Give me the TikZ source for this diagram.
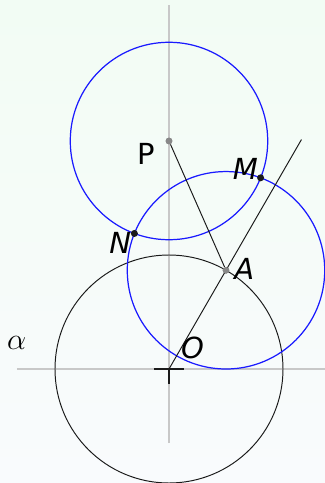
\documentclass[tikz,border=0pt]{standalone}
\usepackage{fontspec}
\setsansfont{DejaVu Sans}
\usepackage{xcolor}
\usepackage{tikz}
\usetikzlibrary{calc}
\definecolor{gtop}{HTML}{F2FCF4}
\definecolor{gbot}{HTML}{F9FBFD}
\definecolor{gaxis}{HTML}{C8C8C8}
\definecolor{gblue}{HTML}{1A1AFF}
\definecolor{gdot}{HTML}{888888}
\definecolor{gink}{HTML}{1A1A1A}
\tikzset{
  ptdot/.style={circle,fill=gink,inner sep=0pt,minimum size=4pt},
  ctrdot/.style={circle,fill=gdot,inner sep=0pt,minimum size=3.8pt},
  ptname/.style={font=\sffamily\itshape\fontsize{16.5}{18}\selectfont,inner sep=0pt},
  ctrname/.style={font=\sffamily\fontsize{16.5}{18}\selectfont,inner sep=0pt},
  thinline/.style={gink,line width=0.55pt},
  bluecirc/.style={gblue,line width=0.7pt}
}

\begin{document}
\begin{tikzpicture}[x=2cm,y=2cm]
  \shade[top color=gtop,bottom color=gbot] (-1.69,-1.14) rectangle (1.56,3.69);
  \useasboundingbox (-1.69,-1.14) rectangle (1.56,3.69);
  \draw[gaxis,line width=0.6pt] (0,-0.74) -- (0,3.64);
  \draw[gaxis,line width=0.6pt] (-1.52,0) -- (1.56,0);

  \coordinate (O) at (0,0);
  \coordinate (E) at (60:2.65);
  \coordinate (cl) at (-0.15,0);
  \coordinate (cr) at (0.15,0);
  \coordinate (cd) at (0,-0.15);
  \node[ctrdot] (A) at (60:1.14) {};
  \node[ctrdot] (P) at (0,2.28) {};

  \draw[thinline] (O) circle (1.14);
  \draw[bluecirc] (P.center) circle (0.98727);
  \draw[bluecirc] (A.center) circle (0.98727);
  \draw[thinline] (O) -- (E);
  \draw[thinline] (P) -- (A);
  \draw[gink,line width=0.6pt] (cl) -- (cr) (O) -- (cd);

  \node[ctrdot] at (A.center) {};
  \node[ctrdot] at (P.center) {};
  \node[ptdot] (M) at (0.91608,1.91190) {};
  \node[ptdot] (N) at (-0.34608,1.35538) {};

  \node[ctrname] (lblP) at (-0.227,2.150) {P};
  \node[ptname] (lblM) at (0.765,2.003) {M};
  \node[ptname] (lblN) at (-0.487,1.257) {N};
  \node[ptname] (lblA) at (0.752,1.003) {A};
  \node[ptname] (lblO) at (0.235,0.210) {O};
  \node[inner sep=0pt,font=\fontsize{19}{21}\selectfont] (lblal) at (-1.523,0.260) {$\alpha$};
\end{tikzpicture}
\end{document}
